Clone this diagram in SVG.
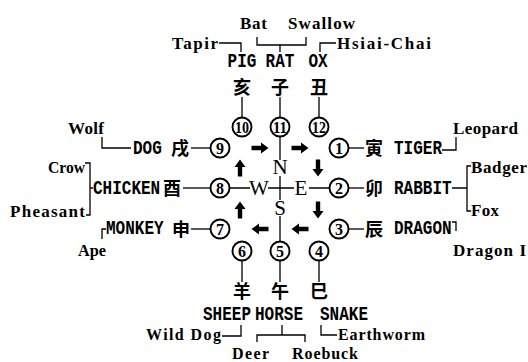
<svg xmlns="http://www.w3.org/2000/svg" width="528" height="362" viewBox="0 0 528 362">
<style>
/* capitals: bold monospace, stretched tall around each text's own box */
.k{font-family:"Liberation Mono","DejaVu Sans Mono",monospace;font-size:16px;font-weight:700;transform-box:fill-box;transform-origin:center;transform:scaleY(1.3)}
/* animal names in serif */
.m{font-family:"Liberation Serif","Times New Roman",serif;font-size:17px;font-weight:700}
.s{font-size:16px}
.mid{text-anchor:middle}
.c{font-family:"Noto Sans CJK SC","Noto Sans CJK JP",sans-serif;font-size:18px;font-weight:700;text-anchor:middle}
.d{font-family:"Liberation Serif",serif;font-size:21px;text-anchor:middle}
.n{font-family:"Liberation Serif",serif;font-size:16px;font-weight:700;text-anchor:middle}
.ring{fill:#fff;stroke:#000;stroke-width:1.9}
.ln{fill:none;stroke:#000;stroke-width:1.3}
</style>
<defs>
<!-- block arrow pointing right, centred on the origin -->
<path id="arw" d="M-8.5,-2.2H1V-5.5L8.5,0L1,5.5V2.2H-8.5Z"/>
</defs>
<rect width="528" height="362" fill="#fff"/>

<g id="connectors" class="ln">
<path d="M219,43H241V52"/>
<path d="M257,37V45H306V37M280,45V52"/>
<path d="M320,52V43H336"/>
<path d="M242,97V117.5M280,97V117.5M319,97V117.5"/>
<path d="M280,136.5V160"/>
<path d="M280,176V200"/>
<path d="M229.5,188H250M268,188H294M309,188H329.5"/>
<path d="M280,216V241.5"/>
<path d="M102,137V148H131"/>
<path d="M191,148H210.5"/>
<path d="M348.5,148H364"/>
<path d="M442,150H456V137"/>
<path d="M85,163H90V215H86M90,188H93"/>
<path d="M183,188H210.5"/>
<path d="M348.5,188H364"/>
<path d="M452,188H467M471,166H467V211H471"/>
<path d="M106,229H102V239"/>
<path d="M191,229H210.5"/>
<path d="M348.5,229H364"/>
<path d="M452,222H456V231"/>
<path d="M242,260.5V282M280,260.5V282M319,260.5V282"/>
<path d="M222,336H241V325"/>
<path d="M282,325V335M257,342V335H305V342"/>
<path d="M321,325V335H337"/>
</g>

<g id="arrows">
<use href="#arw" transform="translate(260,148)"/>
<use href="#arw" transform="translate(300,148)"/>
<use href="#arw" transform="translate(318,168) rotate(90)"/>
<use href="#arw" transform="translate(318,210) rotate(90)"/>
<use href="#arw" transform="translate(300,229) rotate(180)"/>
<use href="#arw" transform="translate(260,229) rotate(180)"/>
<use href="#arw" transform="translate(240,210) rotate(-90)"/>
<use href="#arw" transform="translate(240,168) rotate(-90)"/>
</g>

<g id="compass">
<text class="d" x="280" y="174">N</text>
<text class="d" x="259" y="195">W</text>
<text class="d" x="301" y="195">E</text>
<text class="d" x="280" y="215">S</text>
</g>

<g id="n1"><circle class="ring" cx="339" cy="148" r="9.5"/><text class="n" x="339" y="153.5">1</text></g>
<g id="n2"><circle class="ring" cx="339" cy="188" r="9.5"/><text class="n" x="339" y="193.5">2</text></g>
<g id="n3"><circle class="ring" cx="339" cy="229" r="9.5"/><text class="n" x="339" y="234.5">3</text></g>
<g id="n4"><circle class="ring" cx="319" cy="251" r="9.5"/><text class="n" x="319" y="256.5">4</text></g>
<g id="n5"><circle class="ring" cx="280" cy="251" r="9.5"/><text class="n" x="280" y="256.5">5</text></g>
<g id="n6"><circle class="ring" cx="242" cy="251" r="9.5"/><text class="n" x="242" y="256.5">6</text></g>
<g id="n7"><circle class="ring" cx="220" cy="229" r="9.5"/><text class="n" x="220" y="234.5">7</text></g>
<g id="n8"><circle class="ring" cx="220" cy="188" r="9.5"/><text class="n" x="220" y="193.5">8</text></g>
<g id="n9"><circle class="ring" cx="220" cy="148" r="9.5"/><text class="n" x="220" y="153.5">9</text></g>
<g id="n10"><circle class="ring" cx="242" cy="127" r="9.5"/><text class="n" x="242" y="132.5" textLength="14" lengthAdjust="spacingAndGlyphs">10</text></g>
<g id="n11"><circle class="ring" cx="280" cy="127" r="9.5"/><text class="n" x="280" y="132.5" textLength="14" lengthAdjust="spacingAndGlyphs">11</text></g>
<g id="n12"><circle class="ring" cx="319" cy="127" r="9.5"/><text class="n" x="319" y="132.5" textLength="14" lengthAdjust="spacingAndGlyphs">12</text></g>

<g id="pig"><text class="k mid" x="242" y="65.5">PIG</text><text class="c" x="242" y="94">亥</text></g>
<g id="rat"><text class="k mid" x="280" y="65.5">RAT</text><text class="c" x="280" y="94">子</text></g>
<g id="ox"><text class="k mid" x="318" y="65.5">OX</text><text class="c" x="319" y="94">丑</text></g>
<g id="tiger"><text class="c" x="374" y="155">寅</text><text class="k" x="394" y="152.5">TIGER</text></g>
<g id="rabbit"><text class="c" x="374" y="195">卯</text><text class="k" x="394" y="192.5">RABBIT</text></g>
<g id="dragon"><text class="c" x="374" y="236">辰</text><text class="k" x="394" y="232.5">DRAGON</text></g>
<g id="snake"><text class="c" x="319" y="297.5">巳</text><text class="k" x="320" y="318.5">SNAKE</text></g>
<g id="horse"><text class="c" x="280" y="297.5">午</text><text class="k mid" x="279" y="318.5">HORSE</text></g>
<g id="sheep"><text class="c" x="242" y="297.5">羊</text><text class="k" x="203" y="318.5">SHEEP</text></g>
<g id="monkey"><text class="k" x="106" y="232.5">MONKEY</text><text class="c" x="181" y="236">申</text></g>
<g id="chicken"><text class="k" x="93" y="192.5">CHICKEN</text><text class="c" x="172" y="195">酉</text></g>
<g id="dog"><text class="k" x="133" y="152.5">DOG</text><text class="c" x="180" y="155">戌</text></g>

<g id="bat"><text class="m" x="240" y="29" textLength="27" lengthAdjust="spacing">Bat</text></g>
<g id="swallow"><text class="m" x="288" y="29" textLength="67" lengthAdjust="spacing">Swallow</text></g>
<g id="tapir"><text class="m" x="172" y="49" textLength="46" lengthAdjust="spacing">Tapir</text></g>
<g id="hsiai-chai"><text class="m" x="337" y="49" textLength="94" lengthAdjust="spacing">Hsiai-Chai</text></g>
<g id="wolf"><text class="m" x="68" y="134" textLength="36" lengthAdjust="spacing">Wolf</text></g>
<g id="leopard"><text class="m" x="453" y="134" textLength="65" lengthAdjust="spacing">Leopard</text></g>
<g id="crow"><text class="m" x="48" y="173" textLength="37" lengthAdjust="spacingAndGlyphs">Crow</text></g>
<g id="pheasant"><text class="m" x="10" y="217" textLength="75" lengthAdjust="spacing">Pheasant</text></g>
<g id="badger"><text class="m" x="471" y="173" textLength="56" lengthAdjust="spacing">Badger</text></g>
<g id="fox"><text class="m" x="471" y="216" textLength="28" lengthAdjust="spacing">Fox</text></g>
<g id="ape"><text class="m" x="78" y="256" textLength="28" lengthAdjust="spacingAndGlyphs">Ape</text></g>
<g id="dragon-horse"><text class="m" x="453" y="256" textLength="73" lengthAdjust="spacing">Dragon I</text></g>
<g id="wild-dog"><text class="m s" x="146" y="340" textLength="75" lengthAdjust="spacing">Wild Dog</text></g>
<g id="earthworm"><text class="m s" x="338" y="340" textLength="87" lengthAdjust="spacing">Earthworm</text></g>
<g id="deer"><text class="m s" x="232" y="358.5" textLength="37" lengthAdjust="spacing">Deer</text></g>
<g id="roebuck"><text class="m s" x="292" y="358.5" textLength="66" lengthAdjust="spacing">Roebuck</text></g>
</svg>
